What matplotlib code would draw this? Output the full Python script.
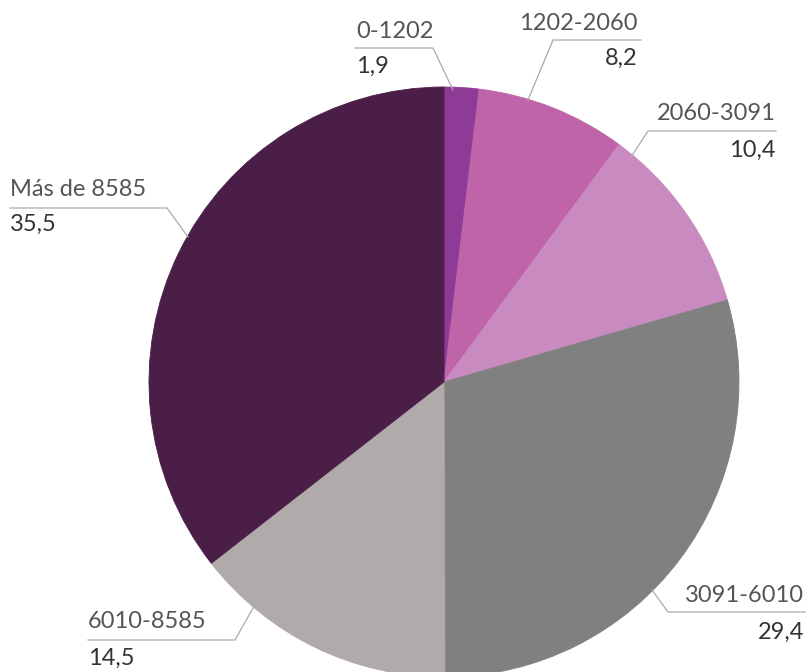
import matplotlib.pyplot as plt

# data
labels = ['0-1202', '1202-2060', '2060-3091', '3091-6010', '6010-8585', 'Más de 8585']
values = [1.9, 8.2, 10.4, 29.4, 14.5, 35.5]
value_text = ['1,9', '8,2', '10,4', '29,4', '14,5', '35,5']
colors = ['#8e3b97', '#c064a9', '#c98bbf', '#7f807f', '#b0abaa', '#4a1e47']

W, H = 809, 672
plt.rcParams['font.family'] = ['Lato', 'DejaVu Sans']

fig = plt.figure(figsize=(W / 100, H / 100), dpi=100)
ax = fig.add_axes([0, 0, 1, 1])

cx, cy, r = 444, H - 382, 295
wedges, _ = ax.pie(values, colors=colors, startangle=90, counterclock=False,
                   center=(cx, cy), radius=r, frame=True)
for w in wedges:
    w.set_edgecolor(w.get_facecolor())
    w.set_linewidth(0.6)
ax.set_xlim(0, W)
ax.set_ylim(0, H)
ax.set_aspect('equal')
ax.axis('off')

# label layout in pixels (y from top): anchor, elbow, line end, text x, align, name y, value y
layout = [
    ((453, 90), (433, 48), (355, 48), 356, 'left', 32, 66),
    ((528, 100), (553, 40), (641, 40), 638, 'right', 24, 58),
    ((631, 157), (648, 131), (776, 131), 776, 'right', 114, 150),
    ((652, 590), (668, 612), (805, 612), 804, 'right', 595, 632),
    ((253, 608), (235, 640), (88, 640), 88, 'left', 622, 658),
    ((188, 237), (167, 208), (10, 208), 10, 'left', 190, 224),
]

for lab, vt, (a, e, end, tx, ha, ny, vy) in zip(labels, value_text, layout):
    ax.plot([a[0], e[0], end[0]], [H - a[1], H - e[1], H - end[1]],
            color='#aaaaaa', lw=0.9, zorder=1)
    ax.text(tx, H - ny, lab, ha=ha, va='center', fontsize=17, color='#555555')
    ax.text(tx, H - vy, vt, ha=ha, va='center', fontsize=17, color='#333333')

fig.savefig('out.png', dpi=100)
